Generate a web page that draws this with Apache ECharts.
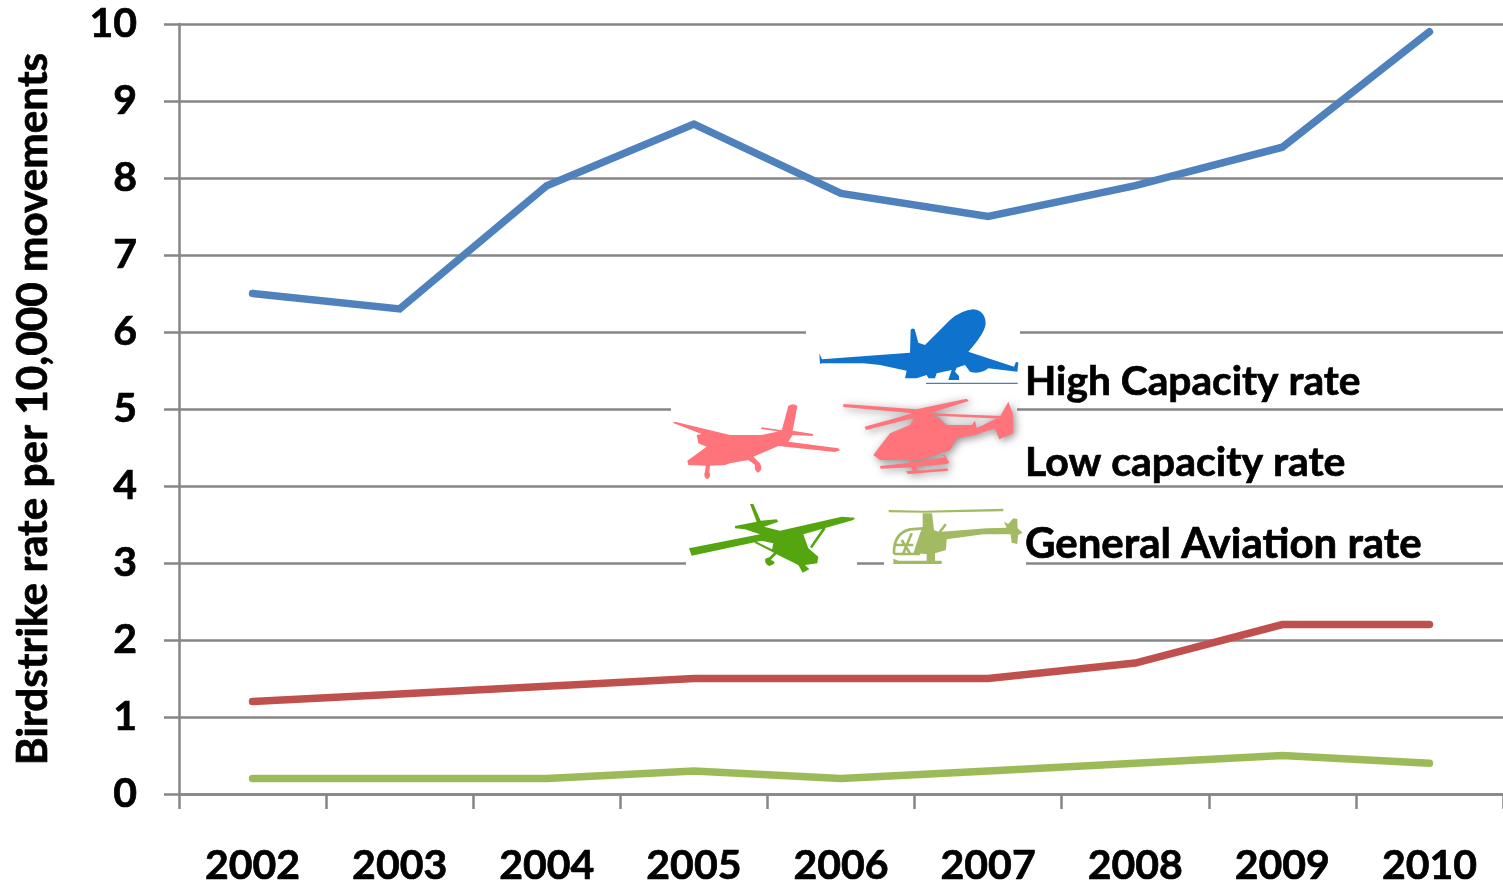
<!DOCTYPE html>
<html>
<head>
<meta charset="utf-8">
<title>Birdstrike rate</title>
<script src="https://cdn.jsdelivr.net/npm/echarts@6/dist/echarts.min.js"></script>
<style>
    html, body { margin: 0; padding: 0; background: #fff; }
    #chart { width: 1503px; height: 885px; }
</style>
</head>
<body>
<div id="chart"></div>
<script>
const years = ["2002", "2003", "2004", "2005", "2006", "2007", "2008", "2009", "2010"];
const highCapacity = [6.5, 6.3, 7.9, 8.7, 7.8, 7.5, 7.9, 8.4, 9.9];
const lowCapacity = [1.2, 1.3, 1.4, 1.5, 1.5, 1.5, 1.7, 2.2, 2.2];
const generalAviation = [0.2, 0.2, 0.2, 0.3, 0.2, 0.3, 0.4, 0.5, 0.4];
const legendNames = ["High Capacity rate", "Low capacity rate", "General Aviation rate"];

const FONT = "Lato";
const GREY = "#868686";

// aircraft silhouettes, written in the coordinates of a 3x crop at (660,300)
const shapes = {
    planeBlue: "M478 160L486 178L750 158L752 90Q756 82 764 88L775 128L795 135L870 60Q905 30 940 28Q975 32 977 70Q975 100 925 155L1062 200L1068 185L1075 188L1072 215L985 205Q960 224 930 215L915 195L890 203L885 215L897 228L897 240L865 240L875 210L830 220L825 235L805 235L800 225L770 235L735 235L740 212L660 195L610 190L485 190L480 192Z",
    runway: "M798 250L1073 250",
    planePink: "M38 368L45 365L210 405L305 405L365 392L385 318Q398 308 412 318L398 392L460 402L458 408L398 405L385 425L535 445L540 451L525 456L355 438L280 470L300 490Q310 508 295 518Q282 512 285 495L265 480L210 490L195 495L150 497L148 515Q155 530 142 538Q128 530 135 515L137 497L85 495L82 482L140 440L115 430L110 405L125 402Z M305 382L395 395L395 400L303 387Z",
    heliPink: "M640 465L690 400L750 375L765 352L775 345L790 328L800 345L835 352L860 375L935 375L945 362L950 385L1020 350L1045 305L1058 340L1060 400L1030 412L1018 418L1005 385L945 405L890 415L870 450L780 480L660 480Z M550 312L770 328L920 296L926 303L810 340L1025 348L1025 356L795 346L618 390L614 380L760 340L550 321Z M660 498L750 488L740 470L748 470L760 486L855 472L845 465L855 465L868 488L860 492L770 500L772 512L862 505L865 512L745 522L737 514L758 512L755 502L662 506Z",
    planeGreen: "M270 612L280 612L302 662L350 658L355 665L312 680L360 692L545 650L585 653L580 660L430 703L445 745L475 770L472 790L435 795L448 808L428 818L415 795L380 778L335 755L340 730L305 722L95 767L87 745L300 703L255 688L225 685L225 678L290 665Z M450 740L490 682L497 686L456 745Z M283 728L290 725L385 772L380 778Z M345 755L352 760L332 780Q348 785 342 792L328 798Q312 790 316 776L328 772Z",
    heliGreenBody: "M788 640L816 640L822 690L835 695L855 670L860 675L845 695L980 685L1040 683L1032 665L1045 672L1060 655L1072 657L1073 685L1088 698L1074 705L1072 732L1055 728L1052 703L970 703L860 718L858 750L825 760L825 782L845 782L845 792L700 792L700 776L715 782L800 782L800 762L760 760L780 700L788 680Z M685 630L790 632L1030 626L1030 634L790 638L687 637Z",
    heliGreenCage: "M702 762Q700 700 750 688L790 685 M702 762L780 762 M725 720L750 760 M755 700L730 760 M705 735L760 735"
};

Object.keys(shapes).forEach(function (key) {
    echarts.graphic.registerShape(key, echarts.graphic.extendPath(shapes[key], {}));
});

function gapRect(x, y, width, height) {
    return {
        type: "rect", silent: true, z: 5,
        shape: { x: x, y: y, width: width, height: height },
        style: { fill: "#fff" }
    };
}

function icon(shapeName, color, stroke, shadow) {
    const g = {
        type: shapeName, silent: true, z: 6, x: 660, y: 300, scaleX: 1 / 3, scaleY: 1 / 3,
        style: { fill: color }
    };
    if (stroke) {
        g.style = { fill: "none", stroke: color, lineWidth: stroke };
    }
    if (shadow) {
        g.style.shadowColor = "rgba(110,110,110,0.8)";
        g.style.shadowBlur = 8;
        g.style.shadowOffsetX = 2;
        g.style.shadowOffsetY = 2;
    }
    return g;
}

function legendText(name, y, size) {
    return {
        type: "text", silent: true, z: 7, x: 1025, y: y,
        style: {
            text: name, fill: "#000", font: "bold " + size + "px " + FONT,
            stroke: "#000", lineWidth: 0.7,
            textAlign: "left", textVerticalAlign: "middle"
        }
    };
}

function line(name, values, color) {
    return {
        name: name,
        type: "line",
        data: values,
        symbol: "none",
        smooth: false,
        lineStyle: { color: color, width: 7.5, cap: "round", join: "miter" }
    };
}

const chart = echarts.init(document.getElementById("chart"), null, { renderer: "canvas" });

chart.setOption({
    animation: false,
    backgroundColor: "#fff",
    grid: { left: 179, right: 0, top: 24, bottom: 91, outerBoundsMode: "none" },
    xAxis: {
        type: "category",
        data: years,
        boundaryGap: true,
        axisLine: { show: true, lineStyle: { color: GREY, width: 2.5 } },
        axisTick: { show: true, length: 15, alignWithLabel: false, lineStyle: { color: GREY, width: 2.5 } },
        axisLabel: { color: "#000", fontFamily: FONT, fontWeight: "bold", fontSize: 41, margin: 72, interval: 0, lineHeight: 40, verticalAlign: "middle", textBorderColor: "#000", textBorderWidth: 0.7 }
    },
    yAxis: {
        type: "value",
        min: 0,
        max: 10,
        interval: 1,
        name: "Birdstrike rate per 10,000 movements",
        nameLocation: "middle",
        nameGap: 125,
        nameRotate: 90,
        nameMoveOverlap: false,
        nameTextStyle: { color: "#000", fontFamily: FONT, fontWeight: "bold", fontSize: 42.3, textBorderColor: "#000", textBorderWidth: 0.7 },
        axisLine: { show: true, lineStyle: { color: GREY, width: 2.5 } },
        axisTick: { show: true, length: 15, lineStyle: { color: GREY, width: 2.5 } },
        axisLabel: { color: "#000", fontFamily: FONT, fontWeight: "bold", fontSize: 41, margin: 42, textBorderColor: "#000", textBorderWidth: 0.7 },
        splitLine: { show: true, lineStyle: { color: GREY, width: 2.5 } }
    },
    series: [
        line(legendNames[0], highCapacity, "#4f81bd"),
        line(legendNames[1], lowCapacity, "#c0504d"),
        line(legendNames[2], generalAviation, "#9bbb59")
    ],
    graphic: [
        gapRect(806, 300, 214, 105),
        gapRect(671, 405, 346, 8),
        gapRect(686, 555, 171, 14),
        gapRect(884, 555, 142, 14),
        icon("planeBlue", "#0f72cc"),
        icon("runway", "#4a7ebb", 4),
        icon("planePink", "#ff737b"),
        icon("heliPink", "#ff737b", 0, true),
        icon("planeGreen", "#55a510"),
        icon("heliGreenBody", "#a2bb62"),
        icon("heliGreenCage", "#a2bb62", 8),
        legendText(legendNames[0], 382, 40.7),
        legendText(legendNames[1], 463, 41),
        legendText(legendNames[2], 544, 42)
    ]
});
</script>
</body>
</html>
